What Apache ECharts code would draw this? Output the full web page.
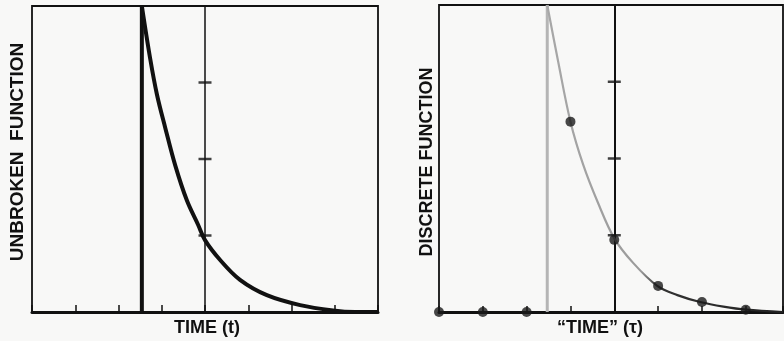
<!DOCTYPE html>
<html>
<head>
<meta charset="utf-8">
<script src="https://cdn.jsdelivr.net/npm/echarts@6/dist/echarts.min.js"></script>
<style>
html,body{margin:0;padding:0;background:#f8f8f7;}
#c{width:784px;height:341px;}
</style>
</head>
<body>
<div id="c"></div>
<script>
// ---- data ----
const xTicksRange = [-4, 4];
const yTickValues = [1, 2, 3];
// left panel: unbroken function
const leftJumpT = -1.46;
const leftT = [-1.46, -1.27, -1.11, -0.92, -0.69, -0.42, -0.16, 0, 0.35, 0.81, 1.43, 2.2, 2.96, 3.47, 4];
const leftV = [4.0, 3.32, 2.84, 2.41, 1.92, 1.46, 1.14, 0.94, 0.68, 0.42, 0.22, 0.09, 0.02, 0, 0];
// right panel: discrete function
const rightJumpT = -1.53;
const rightT = [-1.53, -1.28, -1.0, -0.71, -0.37, 0, 0.43, 0.98, 1.44, 1.96, 2.49, 3.01, 3.85];
const rightV = [4.0, 3.26, 2.48, 1.92, 1.42, 0.96, 0.64, 0.34, 0.22, 0.13, 0.07, 0.03, 0];
const discreteT = [-4, -3, -2, -1, 0, 1, 2, 3];
const discreteV = [0, 0, 0, 2.48, 0.94, 0.34, 0.13, 0.03];
// labels
const labels = {
  leftX: 'TIME (t)',
  leftY: 'UNBROKEN  FUNCTION',
  rightX: '\u201CTIME\u201D (\u03C4)',
  rightY: 'DISCRETE FUNCTION'
};

const zip = (a, b) => a.map((v, i) => [v, b[i]]);
const FONT = 'bold 18px "Liberation Sans", Arial, sans-serif';
const FONT_L = 'bold 19px "Liberation Sans", Arial, sans-serif';

const chart = echarts.init(document.getElementById('c'), null, {renderer: 'canvas'});

function xAxisFor(gi, max, tickLen) {
  return {
    type: 'value', gridIndex: gi, min: xTicksRange[0], max: max, interval: 1,
    axisLine: {show: true, onZero: false, lineStyle: {color: '#111', width: 3}},
    axisTick: {show: true, inside: true, length: tickLen, lineStyle: {color: '#111', width: 1.5}},
    axisLabel: {show: false}, splitLine: {show: false}
  };
}
function yAxisFor(gi, w) {
  return {
    type: 'value', gridIndex: gi, min: 0, max: 4, interval: 1,
    axisLine: {show: true, onZero: true, lineStyle: {color: '#111', width: w}},
    axisTick: {show: false}, axisLabel: {show: false}, splitLine: {show: false}
  };
}

chart.setOption({
  backgroundColor: '#f8f8f7',
  animation: false,
  grid: [
    {left: 32, top: 6, width: 346, height: 306, show: true, borderColor: '#111', borderWidth: 1.8, backgroundColor: 'transparent'},
    {left: 439, top: 5, width: 344, height: 307, show: true, borderColor: '#111', borderWidth: 1.8, backgroundColor: 'transparent'}
  ],
  xAxis: [xAxisFor(0, xTicksRange[1], 7), xAxisFor(1, 3.85, 6)],
  yAxis: [yAxisFor(0, 1.5), yAxisFor(1, 2)],
  series: [
    // left: jump
    {type: 'line', xAxisIndex: 0, yAxisIndex: 0, data: [[leftJumpT, 0], [leftJumpT, 4]],
     symbol: 'none', lineStyle: {color: '#111', width: 4}, z: 3},
    // left: curve
    {type: 'line', xAxisIndex: 0, yAxisIndex: 0, data: zip(leftT, leftV), smooth: 0.35,
     symbol: 'none', lineStyle: {color: '#111', width: 4}, z: 3},
    // left: y ticks crossing center axis
    {type: 'scatter', xAxisIndex: 0, yAxisIndex: 0, data: yTickValues.map(v => [0, v]),
     symbol: 'rect', symbolSize: [13, 2.5], itemStyle: {color: '#111'}, z: 4},
    // right: gray jump
    {type: 'line', xAxisIndex: 1, yAxisIndex: 1, data: [[rightJumpT, 0], [rightJumpT, 4]],
     symbol: 'none', lineStyle: {color: '#b5b5b5', width: 3}, z: 2},
    // right: curve gray -> dark
    {type: 'line', xAxisIndex: 1, yAxisIndex: 1, data: zip(rightT, rightV), smooth: 0.35,
     symbol: 'none', z: 3,
     lineStyle: {width: 2.2, color: new echarts.graphic.LinearGradient(0, 0, 1, 0, [
       {offset: 0, color: '#a8a8a8'}, {offset: 0.40, color: '#9a9a9a'},
       {offset: 0.47, color: '#333'}, {offset: 1, color: '#222'}])}},
    // right: y ticks crossing center axis
    {type: 'scatter', xAxisIndex: 1, yAxisIndex: 1, data: yTickValues.map(v => [0, v]),
     symbol: 'rect', symbolSize: [13, 2.5], itemStyle: {color: '#111'}, z: 4},
    // right: discrete points
    {type: 'scatter', xAxisIndex: 1, yAxisIndex: 1, data: zip(discreteT, discreteV),
     symbol: 'circle', symbolSize: 10, itemStyle: {color: '#1a1a1a'}, z: 5}
  ],
  graphic: [
    {type: 'text', x: 207, y: 328, style: {text: labels.leftX, font: FONT, fill: '#111', align: 'center', verticalAlign: 'middle'}},
    {type: 'text', x: 600, y: 328, style: {text: labels.rightX, font: FONT, fill: '#111', align: 'center', verticalAlign: 'middle'}},
    {type: 'text', x: 18, y: 152, rotation: Math.PI / 2, style: {text: labels.leftY, font: FONT_L, fill: '#111', align: 'center', verticalAlign: 'middle'}},
    {type: 'text', x: 427, y: 162, rotation: Math.PI / 2, style: {text: labels.rightY, font: FONT, fill: '#111', align: 'center', verticalAlign: 'middle'}}
  ]
});
</script>
</body>
</html>
